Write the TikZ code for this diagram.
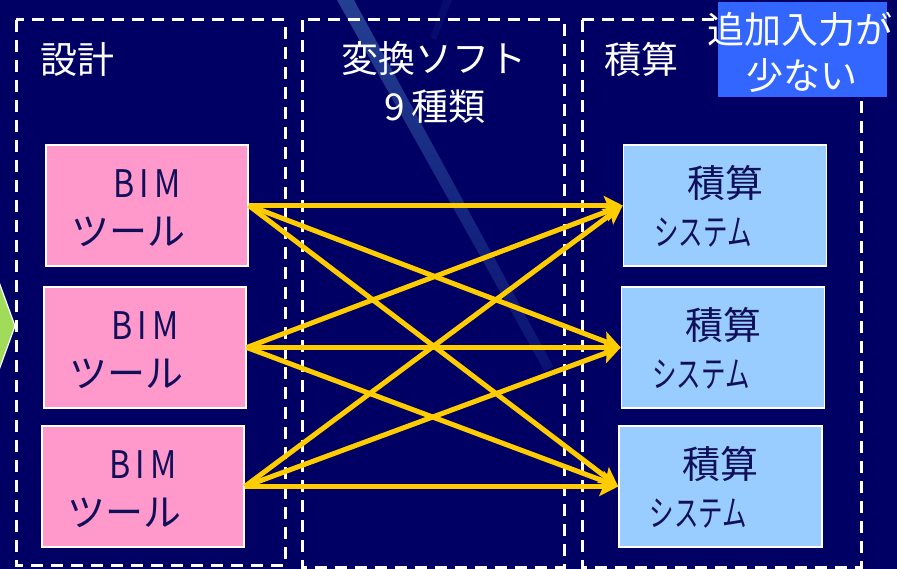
\documentclass[tikz,border=0pt]{standalone}
\usepackage{fontspec}
\usepackage{graphicx}
\newfontfamily\jp{Noto Sans CJK JP}
\usetikzlibrary{arrows.meta,calc}
\definecolor{bg}{HTML}{000064}
\definecolor{streak}{HTML}{2A4A9A}
\definecolor{pinkfill}{HTML}{FF99CC}
\definecolor{bluefill}{HTML}{99CCFF}
\definecolor{labelblue}{HTML}{3366FF}
\definecolor{ink}{HTML}{10105A}
\definecolor{arrowyellow}{HTML}{FFCC00}
\definecolor{greenarrow}{HTML}{A0DC5A}
\tikzset{
  dashbox/.style={draw=white, line width=3pt, dash pattern=on 12pt off 8pt},
  pinkbox/.style={rectangle, draw=white, line width=1.5pt, fill=pinkfill, minimum width=202pt, minimum height=121pt, inner sep=0pt},
  bluebox/.style={rectangle, draw=white, line width=1.5pt, fill=bluefill, minimum width=203pt, minimum height=121pt, inner sep=0pt},
  title/.style={text=white, inner sep=0pt, font=\jp\fontsize{37}{40}\selectfont},
  boxtext/.style={text=ink, inner sep=0pt, font=\jp\fontsize{38}{40}\selectfont},
  link/.style={draw=arrowyellow, line width=5pt, -{Stealth[length=19pt,width=19pt,inset=4pt]}},
}
\begin{document}
\begin{tikzpicture}[x=1pt,y=-1pt]
\useasboundingbox (0,0) rectangle (897,569);
\clip (0,0) rectangle (897,569);
\fill[bg] (0,0) rectangle (897,569);
% light diagonal streak
\shade[top color=streak!85!bg, bottom color=bg!75!streak] (337,0) -- (354,0) -- (553,366) -- (545,372) -- cycle;
\fill[streak, opacity=0.15] (443,0) -- (452,0) -- (436,40) -- (430,38) -- cycle;
% green arrow at left edge
\filldraw[fill=greenarrow, draw=white, line width=1.2pt] (-5,271) -- (15,326) -- (-5,381) -- cycle;
% dashed column frames
\draw[dashbox] (16,20) rectangle (285,565);
\draw[dashbox] (302,20) rectangle (564,567);
\draw[dashbox] (582,20) rectangle (861,567);
% label box
\fill[labelblue] (718,2) rectangle (887,97);
\node[title] (lab1) at (800,29) {追加入力が};
\node[title] (lab2) at (802,75) {少ない};
% column titles
\node[title] (t1) at (77,59) {設計};
\node[title] (t2) at (434,58) {変換ソフト};
\node[title] (t3) at (435,107) {9\,種類};
\node[title] (t4) at (641,59) {積算};
% BIM tools
\node[pinkbox] (pA) at (147,205.5) {};
\node[pinkbox] (pB) at (145,347.5) {};
\node[pinkbox] (pC) at (143,486.5) {};
\foreach \p in {pA,pB,pC}{
  \node[boxtext] (\p-t1) at ($(\p.center)+(0,-22)$) {\scalebox{0.85}[1]{B\,I\,M}};
  \node[boxtext] (\p-t2) at ($(\p.center)+(-19,26)$) {ツール};
}
% estimation systems
\node[bluebox] (b1) at (725,205.5) {};
\node[bluebox] (b2) at (723,347.5) {};
\node[bluebox] (b3) at (720.5,486.5) {};
\foreach \b in {b1,b2,b3}{
  \node[boxtext] (\b-t1) at ($(\b.center)+(0,-22)$) {積算};
  \node[boxtext] (\b-t2) at ($(\b.center)+(-22,27)$) {\scalebox{0.68}[1]{\fontsize{36}{40}\selectfont システム}};
}
% connectors
\foreach \p in {pA,pB,pC}{
  \foreach \b in {b1,b2,b3}{
    \draw[link] (\p.east) -- (\b.west);
  }
}
\end{tikzpicture}
\end{document}
